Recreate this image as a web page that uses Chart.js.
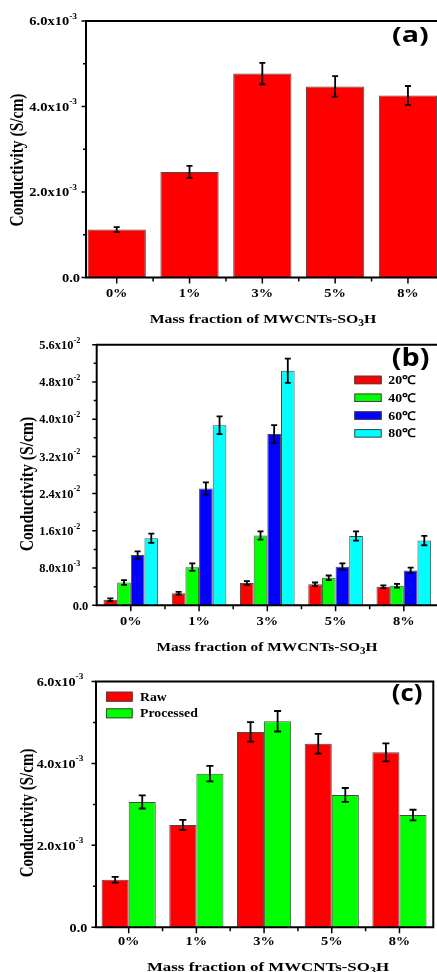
<!DOCTYPE html>
<html>
<head>
<meta charset="utf-8">
<script src="https://cdn.jsdelivr.net/npm/chart.js@4.4.1/dist/chart.umd.min.js"></script>
<style>
  html, body { margin: 0; padding: 0; background: #fff; }
  body { width: 437px; height: 972px; position: relative; overflow: hidden; }
  canvas { position: absolute; left: 0; }
</style>
</head>
<body>
<canvas id="chartA" width="437" height="330" style="top:0"></canvas>
<canvas id="chartB" width="437" height="330" style="top:330px"></canvas>
<canvas id="chartC" width="437" height="322" style="top:650px"></canvas>
<script>
// --- data ---
const categories = ['0%', '1%', '3%', '5%', '8%'];
const xTitle = ['Mass fraction of MWCNTs-SO', '3', 'H'];
const yTitle = 'Conductivity (S/cm)';

// (a) conductivity vs. filler content
const condA = [1.12e-3, 2.47e-3, 4.77e-3, 4.47e-3, 4.26e-3];
const errA = [0.06e-3, 0.14e-3, 0.25e-3, 0.24e-3, 0.22e-3];

// (b) conductivity at four temperatures
const tempLabels = ['20\u2103', '40\u2103', '60\u2103', '80\u2103'];
const cond20 = [0.0012, 0.0026, 0.0048, 0.0045, 0.0040];
const cond40 = [0.0049, 0.0082, 0.0150, 0.0059, 0.0042];
const cond60 = [0.0108, 0.0251, 0.0368, 0.0083, 0.0075];
const cond80 = [0.0144, 0.0387, 0.0504, 0.0149, 0.0139];
const err20 = [0.0003, 0.0003, 0.0004, 0.0004, 0.0003];
const err40 = [0.0005, 0.0008, 0.0009, 0.0005, 0.0004];
const err60 = [0.0008, 0.0013, 0.0019, 0.0007, 0.0006];
const err80 = [0.0010, 0.0019, 0.0026, 0.0010, 0.0010];

// (c) raw vs processed
const sampleLabels = ['Raw', 'Processed'];
const condRaw = [1.16e-3, 2.50e-3, 4.77e-3, 4.48e-3, 4.27e-3];
const condProcessed = [3.06e-3, 3.75e-3, 5.03e-3, 3.23e-3, 2.74e-3];
const errRaw = [0.07e-3, 0.12e-3, 0.24e-3, 0.24e-3, 0.22e-3];
const errProcessed = [0.16e-3, 0.19e-3, 0.25e-3, 0.17e-3, 0.13e-3];

// y ticks ("^" marks the superscript)
const yTicksA = [0, 0.002, 0.004, 0.006];
const yLabelsA = ['0.0', '2.0x10^-3', '4.0x10^-3', '6.0x10^-3'];
const yTicksB = [0, 0.008, 0.016, 0.024, 0.032, 0.040, 0.048, 0.056];
const yLabelsB = ['0.0', '8.0x10^-3', '1.6x10^-2', '2.4x10^-2', '3.2x10^-2', '4.0x10^-2', '4.8x10^-2', '5.6x10^-2'];
const yTicksC = [0, 0.002, 0.004, 0.006];
const yLabelsC = ['0.0', '2.0x10^-3', '4.0x10^-3', '6.0x10^-3'];

const SERIF = '"Liberation Serif", "Times New Roman", serif';
const SANS = '"Open Sans", "DejaVu Sans", sans-serif';

// draws text pieces one after another, each squeezed/stretched horizontally by sx
function drawRuns(ctx, runs, x, y, align) {
  let total = 0;
  runs.forEach(r => {
    ctx.font = r.font;
    r.w = ctx.measureText(r.text).width * r.sx;
    total += r.w;
  });
  let left = x;
  if (align === 'center') left = x - total / 2;
  if (align === 'right') left = x - total;
  ctx.textAlign = 'left';
  ctx.textBaseline = 'alphabetic';
  runs.forEach(r => {
    ctx.save();
    ctx.font = r.font;
    ctx.translate(left, y + (r.dy || 0));
    ctx.scale(r.sx, 1);
    ctx.fillText(r.text, 0, 0);
    ctx.restore();
    left += r.w;
  });
}

function makePanel(id, cfg) {
  const decor = {
    id: 'decor',
    afterDatasetsDraw(chart) {
      const ctx = chart.ctx;
      const ys = chart.scales.y;
      ctx.save();
      ctx.strokeStyle = '#000';
      ctx.lineWidth = 1.8;
      cfg.series.forEach((s, i) => {
        chart.getDatasetMeta(i).data.forEach((bar, j) => {
          const top = ys.getPixelForValue(s.values[j] + s.errors[j]);
          const bot = ys.getPixelForValue(s.values[j] - s.errors[j]);
          const c = cfg.errCap;
          ctx.beginPath();
          ctx.moveTo(bar.x, top); ctx.lineTo(bar.x, bot);
          ctx.moveTo(bar.x - c, top); ctx.lineTo(bar.x + c, top);
          ctx.moveTo(bar.x - c, bot); ctx.lineTo(bar.x + c, bot);
          ctx.stroke();
        });
      });
      ctx.restore();
    },
    afterDraw(chart) {
      const ctx = chart.ctx;
      const a = chart.chartArea;
      const xs = chart.scales.x, ys = chart.scales.y;
      ctx.save();
      ctx.strokeStyle = '#000';
      ctx.fillStyle = '#000';
      ctx.lineWidth = 2;

      // frame
      ctx.beginPath();
      ctx.moveTo(a.left, a.top); ctx.lineTo(a.left, a.bottom);
      ctx.moveTo(a.left - 1, a.bottom); ctx.lineTo(a.right + 1, a.bottom);
      ctx.moveTo(a.left - 1, a.top); ctx.lineTo(a.right + 1, a.top);
      if (cfg.frameRight) { ctx.moveTo(a.right, a.top); ctx.lineTo(a.right, a.bottom); }
      ctx.stroke();

      // y ticks, major + minor
      ctx.lineWidth = 1.5;
      ctx.beginPath();
      cfg.yTicks.forEach((v, i) => {
        const py = ys.getPixelForValue(v);
        ctx.moveTo(a.left, py); ctx.lineTo(a.left - 4.5, py);
        if (i < cfg.yTicks.length - 1) {
          const pm = ys.getPixelForValue((v + cfg.yTicks[i + 1]) / 2);
          ctx.moveTo(a.left, pm); ctx.lineTo(a.left - 3, pm);
        }
      });
      // x ticks at categories and between them
      categories.forEach((c, i) => {
        const px = xs.getPixelForValue(i);
        ctx.moveTo(px, a.bottom); ctx.lineTo(px, a.bottom + 6);
        const half = i + 0.5;
        if (half < xs.max) {
          const ph = xs.getPixelForValue(half);
          ctx.moveTo(ph, a.bottom); ctx.lineTo(ph, a.bottom + 4);
        }
      });
      ctx.stroke();

      // y tick labels
      const t = cfg.yTick;
      cfg.yTicks.forEach((v, i) => {
        const py = ys.getPixelForValue(v) + t.dy;
        const parts = cfg.yLabels[i].split('^');
        const main = { text: parts[0], font: 'bold ' + t.size + 'px ' + SERIF, sx: t.sx };
        if (parts.length > 1) {
          const sup = { text: parts[1], font: 'bold ' + t.supSize + 'px ' + SERIF, sx: t.sx, dy: -t.supRise };
          drawRuns(ctx, [main, sup], a.left - t.supGap, py, 'right');
        } else {
          drawRuns(ctx, [main], a.left - t.plainGap, py, 'right');
        }
      });

      // x tick labels
      categories.forEach((c, i) => {
        drawRuns(ctx, [{ text: c, font: 'bold 12px ' + SERIF, sx: 1.2 }],
          xs.getPixelForValue(i), a.bottom + cfg.xTickDy, 'center');
      });

      // x title with subscript
      const xt = cfg.xTitle;
      const f = 'bold ' + xt.size + 'px ' + SERIF;
      drawRuns(ctx, [
        { text: xTitle[0], font: f, sx: xt.sx },
        { text: xTitle[1], font: 'bold ' + (xt.size * 0.72) + 'px ' + SERIF, sx: xt.sx, dy: 3 },
        { text: xTitle[2], font: f, sx: xt.sx }
      ], xt.x, a.bottom + xt.dy, 'center');

      // y title, rotated
      const yt = cfg.yTitle;
      ctx.save();
      ctx.translate(yt.x, yt.y);
      ctx.rotate(-Math.PI / 2);
      ctx.scale(1, yt.sx);
      ctx.font = 'bold ' + yt.size + 'px ' + SERIF;
      ctx.textAlign = 'center';
      ctx.textBaseline = 'middle';
      ctx.fillText(yTitle, 0, 0);
      ctx.restore();

      // panel tag
      const tg = cfg.tag;
      drawRuns(ctx, [{ text: tg.text, font: 'bold ' + tg.size + 'px ' + SANS, sx: tg.sx }], tg.x, tg.y, 'left');

      // legend
      const L = cfg.legend;
      if (L) {
        cfg.series.forEach((s, i) => {
          const top = L.y + i * L.rowH;
          ctx.fillStyle = s.color;
          ctx.fillRect(L.x, top, L.boxW, L.boxH);
          ctx.strokeStyle = '#444';
          ctx.lineWidth = 1;
          ctx.strokeRect(L.x + 0.5, top + 0.5, L.boxW - 1, L.boxH - 1);
          ctx.fillStyle = '#000';
          drawRuns(ctx, [{ text: s.label, font: 'bold ' + L.size + 'px ' + SERIF, sx: L.sx }],
            L.textX, top + L.boxH / 2 + 4, 'left');
        });
      }
      ctx.restore();
    }
  };

  return new Chart(document.getElementById(id), {
    type: 'bar',
    data: {
      datasets: cfg.series.map(s => ({
        label: s.label,
        data: s.values.map((v, i) => ({ x: i, y: v })),
        backgroundColor: s.color,
        borderColor: '#4a4a4a',
        borderWidth: 1,
        categoryPercentage: 0.8,
        barPercentage: 1
      }))
    },
    options: {
      responsive: false,
      animation: false,
      devicePixelRatio: 1,
      layout: { padding: cfg.pad },
      plugins: { legend: { display: false }, tooltip: { enabled: false } },
      scales: {
        x: {
          type: 'linear', display: false, bounds: 'data', offset: false,
          grid: { offset: false },
          min: cfg.xMin, max: cfg.xMax,
          afterBuildTicks: s => { s.ticks = categories.map((c, i) => ({ value: i })); }
        },
        y: { type: 'linear', display: false, bounds: 'data', min: 0, max: cfg.yMax }
      }
    },
    plugins: [decor]
  });
}

makePanel('chartA', {
  series: [{ label: 'Conductivity', values: condA, errors: errA, color: '#ff0000' }],
  pad: { top: 21, bottom: 52.5, left: 86, right: 0 },
  xMin: -0.422, xMax: 4.399, yMax: 0.006,
  yTicks: yTicksA, yLabels: yLabelsA,
  yTick: { size: 11.5, supSize: 7.5, sx: 1.26, dy: 4.3, supRise: 6.5, supGap: 9, plainGap: 6 },
  xTickDy: 19.8,
  xTitle: { x: 263, dy: 45.8, size: 13.5, sx: 1.17 },
  yTitle: { x: 17.5, y: 160, size: 15.5, sx: 1.25 },
  tag: { text: '(a)', x: 392, y: 41.7, size: 22, sx: 1.3 },
  errCap: 3,
  frameRight: false
});

makePanel('chartB', {
  series: [
    { label: tempLabels[0], values: cond20, errors: err20, color: '#ff0000' },
    { label: tempLabels[1], values: cond40, errors: err40, color: '#00ff00' },
    { label: tempLabels[2], values: cond60, errors: err60, color: '#0000ff' },
    { label: tempLabels[3], values: cond80, errors: err80, color: '#00ffff' }
  ],
  pad: { top: 14.7, bottom: 54.7, left: 96.7, right: 0 },
  xMin: -0.5, xMax: 4.486, yMax: 0.056,
  yTicks: yTicksB, yLabels: yLabelsB,
  yTick: { size: 11.5, supSize: 7.5, sx: 1.08, dy: 4.3, supRise: 6.5, supGap: 16.5, plainGap: 8.5 },
  xTickDy: 19.7,
  xTitle: { x: 267, dy: 45.5, size: 13.5, sx: 1.14 },
  yTitle: { x: 28, y: 154, size: 15.7, sx: 1.2 },
  tag: { text: '(b)', x: 391.7, y: 35.7, size: 25, sx: 1.15 },
  legend: { x: 354.3, y: 45.7, rowH: 17.8, boxW: 27.4, boxH: 8.5, textX: 388.3, size: 12, sx: 1.15 },
  errCap: 3,
  frameRight: false
});

makePanel('chartC', {
  series: [
    { label: sampleLabels[0], values: condRaw, errors: errRaw, color: '#ff0000' },
    { label: sampleLabels[1], values: condProcessed, errors: errProcessed, color: '#00ff00' }
  ],
  pad: { top: 31.5, bottom: 44.7, left: 96, right: 3.7 },
  xMin: -0.483, xMax: 4.5, yMax: 0.006,
  yTicks: yTicksC, yLabels: yLabelsC,
  yTick: { size: 11.5, supSize: 7.5, sx: 1.23, dy: 4.3, supRise: 6.5, supGap: 12.7, plainGap: 8.7 },
  xTickDy: 17.7,
  xTitle: { x: 268, dy: 43.4, size: 13.5, sx: 1.25 },
  yTitle: { x: 28, y: 163, size: 15, sx: 1.25 },
  tag: { text: '(c)', x: 391.7, y: 51.2, size: 23, sx: 1.12 },
  legend: { x: 106, y: 41.7, rowH: 16.6, boxW: 26.7, boxH: 10, textX: 140, size: 12.5, sx: 1.1 },
  errCap: 3.5,
  frameRight: true
});
</script>
</body>
</html>
